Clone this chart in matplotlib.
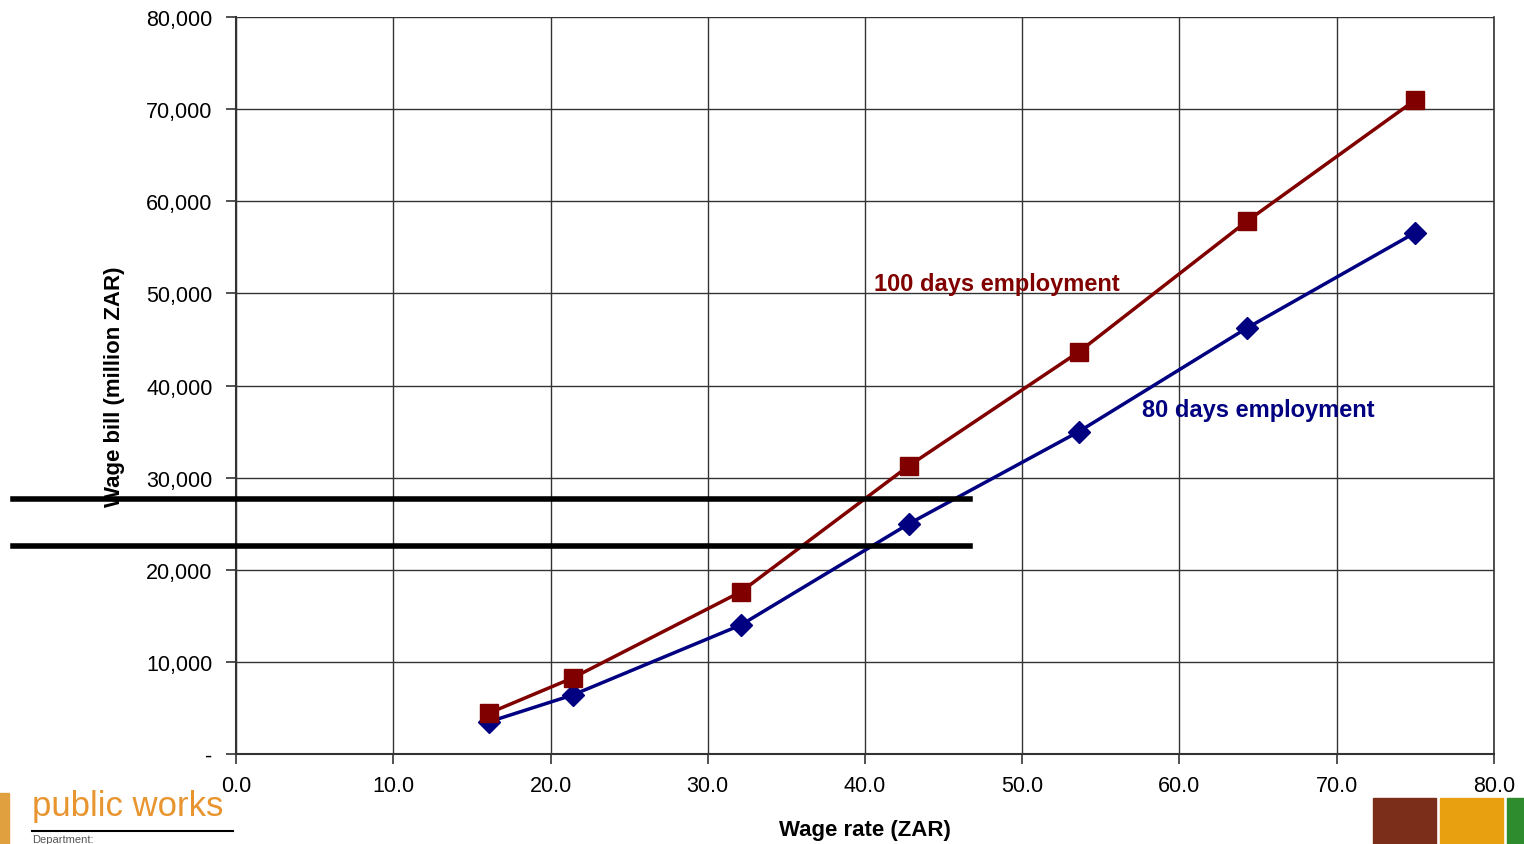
import matplotlib.pyplot as plt
from matplotlib.patches import Rectangle

plt.rcParams['font.family'] = ['Liberation Sans', 'DejaVu Sans']

# wage rate (ZAR) at each marker
wage_rate = [16.1, 21.4, 32.1, 42.8, 53.6, 64.3, 75.0]
# wage bill (million ZAR)
bill_100_days = [4450, 8250, 17600, 31300, 43650, 57850, 71000]
bill_80_days = [3500, 6400, 14000, 25000, 35000, 46250, 56600]

# budget reference lines
budget_levels = [27700, 22600]
budget_x = [-14.2, 46.7]

fig = plt.figure(figsize=(15.24, 8.45), dpi=100)
ax = fig.add_axes([0.1549, 0.1065, 0.8254, 0.8722])

ax.plot(wage_rate, bill_100_days, color='#800000', lw=2.5, marker='s',
        markersize=13, zorder=4)
ax.plot(wage_rate, bill_80_days, color='#000080', lw=2.5, marker='D',
        markersize=11, zorder=3)

for lvl in budget_levels:
    ax.plot(budget_x, [lvl, lvl], color='black', lw=4, clip_on=False, zorder=5)

ax.set_xlim(0, 80)
ax.set_ylim(0, 80000)
ax.set_xticks(range(0, 81, 10))
ax.set_xticklabels([f"{v:.1f}" for v in range(0, 81, 10)])
ax.set_yticks(range(0, 80001, 10000))
ax.set_yticklabels(['-'] + [f"{v:,}" for v in range(10000, 80001, 10000)])
ax.tick_params(labelsize=15.5, length=7, width=1.2, color='#333333')
ax.tick_params(axis='y', pad=10)
ax.tick_params(axis='x', pad=8)
ax.grid(True, color='#333333', lw=1)
for side in ['top', 'right']:
    ax.spines[side].set_visible(False)
for side in ['left', 'bottom']:
    ax.spines[side].set_linewidth(1.5)
    ax.spines[side].set_color('#333333')
ax.axvline(80, color='#333333', lw=1.2, clip_on=False)

ax.set_xlabel('Wage rate (ZAR)', fontsize=16, fontweight='bold', labelpad=17)
ax.set_ylabel('Wage bill (million ZAR)', fontsize=16, fontweight='bold', labelpad=15)

ax.text(40.6, 51100, '100 days employment', color='#800000', fontsize=17,
        fontweight='bold', va='center')
ax.text(57.6, 37400, '80 days employment', color='#000080', fontsize=17,
        fontweight='bold', va='center')

# logo bits at the bottom corners
fig.text(0.021, 0.046, 'public works', color='#E8952F', fontsize=25, va='center')
fig.add_artist(plt.Line2D([0.021, 0.153], [0.015, 0.015], color='black', lw=1.5))
fig.text(0.021, 0.0, 'Department:', color='#555555', fontsize=8, va='bottom')
fig.add_artist(Rectangle((0.0, 0.0), 0.006, 0.06, color='#E0A040'))
fig.add_artist(Rectangle((0.901, 0.0), 0.041, 0.054, color='#7B2E1A'))
fig.add_artist(Rectangle((0.945, 0.0), 0.041, 0.054, color='#E8A010'))
fig.add_artist(Rectangle((0.989, 0.0), 0.011, 0.054, color='#2E8B2E'))

fig.savefig('out.png', dpi=100)
